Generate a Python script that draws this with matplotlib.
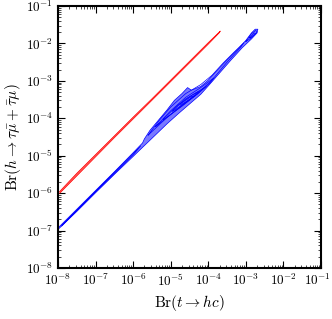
import numpy as np
import matplotlib
matplotlib.use("Agg")
import matplotlib.pyplot as plt
import matplotlib.transforms as mtransforms
from matplotlib.ticker import FuncFormatter, LogLocator

plt.rcParams['mathtext.fontset'] = 'cm'
plt.rcParams['font.family'] = 'serif'

# contours, as log10 values (x = Br(t->hc), y = Br(h->tau mu))
red_outer_lx = [-7.96, -7.5, -7.0, -6.5, -6.0, -5.5, -5.0, -4.5, -4.0, -3.68,
                -3.70, -4.0, -4.5, -5.0, -5.5, -6.0, -6.5, -7.0, -7.5, -7.96]
red_outer_ly = [-5.96, -5.47, -4.97, -4.47, -3.97, -3.48, -2.98, -2.48, -1.98, -1.67,
                -1.71, -2.02, -2.52, -3.02, -3.52, -4.02, -4.52, -5.03, -5.54, -6.01]

blue_outer_lx = [-8.00, -7.5, -7.0, -6.5, -6.0, -5.75, -5.7, -5.55, -5.35, -5.1, -4.9, -4.7, -4.55,
                 -4.45, -4.2, -4.0, -3.8, -3.5, -3.2, -3.0, -2.85, -2.75, -2.68,
                 -2.70, -2.85, -3.1, -3.4, -3.75, -3.95, -4.2, -4.5, -4.8, -5.1, -5.4,
                 -5.7, -6.0, -6.5, -7.0, -7.5, -8.00]
blue_outer_ly = [-6.93, -6.43, -5.93, -5.43, -4.92, -4.66, -4.55, -4.32, -4.08, -3.78, -3.52, -3.34, -3.18,
                 -3.25, -3.15, -2.98, -2.76, -2.44, -2.14, -1.92, -1.72, -1.62, -1.62,
                 -1.72, -1.88, -2.12, -2.45, -2.85, -3.08, -3.36, -3.62, -3.88, -4.15, -4.44,
                 -4.73, -5.02, -5.50, -5.99, -6.49, -6.97]
blue_c2_lx = [-5.6, -5.3, -5.0, -4.6, -4.2, -3.9, -3.6, -3.3, -3.05, -3.15, -3.5, -3.9, -4.3, -4.7, -5.1, -5.6]
blue_c2_ly = [-4.45, -4.05, -3.70, -3.34, -3.10, -2.85, -2.52, -2.22, -1.98, -2.12, -2.50, -2.98, -3.35, -3.66, -3.98, -4.45]
blue_c3_lx = [-5.4, -5.0, -4.6, -4.2, -3.85, -3.95, -4.3, -4.7, -5.0, -5.4]
blue_c3_ly = [-4.22, -3.80, -3.44, -3.18, -2.92, -3.05, -3.36, -3.66, -3.90, -4.22]
blue_c4_lx = [-5.2, -4.8, -4.4, -4.05, -4.3, -4.7, -5.2]
blue_c4_ly = [-4.02, -3.64, -3.36, -3.15, -3.36, -3.68, -4.04]
blue_c5_lx = [-4.95, -4.6, -4.25, -4.5, -4.95]
blue_c5_ly = [-3.80, -3.48, -3.28, -3.50, -3.82]
blue_c6_lx = [-4.75, -4.45, -4.35, -4.6, -4.75]
blue_c6_ly = [-3.62, -3.42, -3.40, -3.56, -3.65]
blue_c7_lx = [-7.9, -7.0, -6.0, -5.8, -6.0, -7.0, -7.9]
blue_c7_ly = [-6.86, -5.95, -4.94, -4.74, -4.98, -5.97, -6.88]
blue_tip1_lx = [-3.0, -2.85, -2.73, -2.71, -2.85, -3.0]
blue_tip1_ly = [-1.95, -1.74, -1.65, -1.71, -1.85, -1.95]
blue_tip2_lx = [-2.9, -2.78, -2.74, -2.85, -2.9]
blue_tip2_ly = [-1.85, -1.72, -1.73, -1.83, -1.85]

blue_curves = [(blue_outer_lx, blue_outer_ly), (blue_c2_lx, blue_c2_ly),
               (blue_c3_lx, blue_c3_ly), (blue_c4_lx, blue_c4_ly),
               (blue_c5_lx, blue_c5_ly), (blue_c6_lx, blue_c6_ly),
               (blue_c7_lx, blue_c7_ly),
               (blue_tip1_lx, blue_tip1_ly), (blue_tip2_lx, blue_tip2_ly)]

fig = plt.figure(figsize=(3.32, 3.19), dpi=100)
ax = fig.add_axes([0.1747, 0.1599, 0.792, 0.8213])

ax.fill(10 ** np.array(red_outer_lx), 10 ** np.array(red_outer_ly), color='#ff6060', lw=0)
ax.plot(10 ** np.array(red_outer_lx), 10 ** np.array(red_outer_ly), color='#ff0000', lw=0.5)
ax.fill(10 ** np.array(blue_outer_lx), 10 ** np.array(blue_outer_ly), color='#7a7aff', lw=0)
for lx, ly in blue_curves:
    ax.plot(10 ** np.array(lx), 10 ** np.array(ly), color='#0000ff', lw=0.5)

ax.set_xscale('log')
ax.set_yscale('log')
ax.set_xlim(1e-8, 1e-1)
ax.set_ylim(1e-8, 1e-1)

fmt = FuncFormatter(lambda v, p: r'$10^{%d}$' % round(np.log10(v)))
for axis in (ax.xaxis, ax.yaxis):
    axis.set_major_locator(LogLocator(base=10, numticks=20))
    axis.set_minor_locator(LogLocator(base=10, subs=np.arange(2, 10), numticks=20))
    axis.set_major_formatter(fmt)

ax.tick_params(which='both', direction='in', top=True, right=True, labelsize=9.5)
ax.tick_params(which='major', length=5, width=0.8)
ax.tick_params(which='minor', length=2.5, width=0.5)
for s in ax.spines.values():
    s.set_linewidth(1.5)

ax.set_xlabel(r'$\mathrm{Br}(t \rightarrow hc)$', fontsize=11, labelpad=3)
ax.set_ylabel(r'$\mathrm{Br}(h \rightarrow \tau\bar{\mu} + \bar{\tau}\mu)$', fontsize=11, labelpad=2)

# nudge the last x tick label so it stays inside the figure
fig.canvas.draw()
shift = mtransforms.ScaledTranslation(-4 / 100, 0, fig.dpi_scale_trans)
for tick in ax.xaxis.get_major_ticks():
    if abs(np.log10(tick.get_loc()) + 1) < 0.01:
        tick.label1.set_transform(tick.label1.get_transform() + shift)

fig.savefig('out.png', dpi=100)
